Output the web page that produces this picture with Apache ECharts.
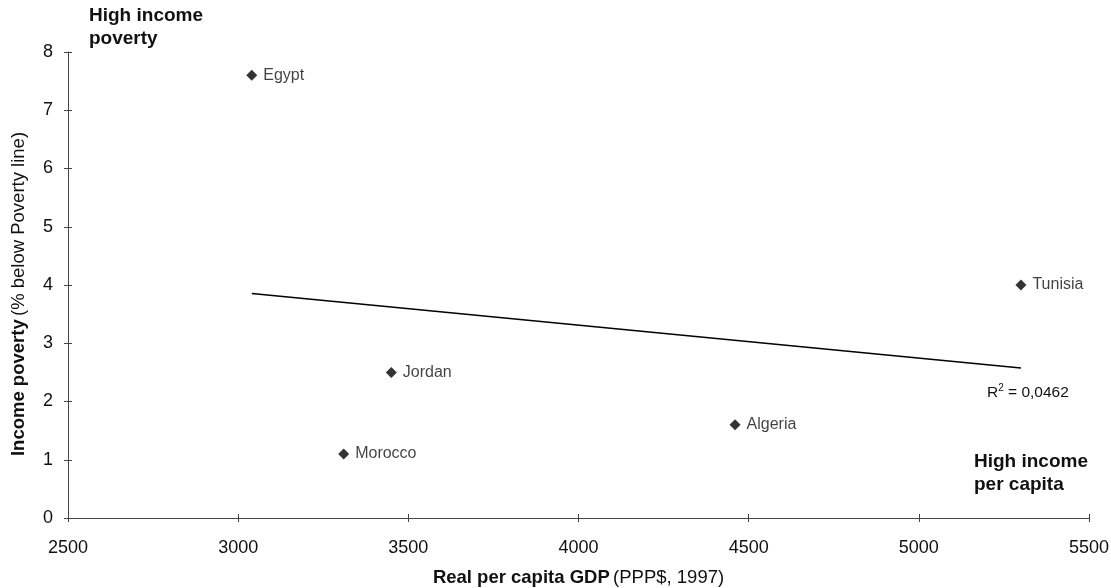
<!DOCTYPE html>
<html>
<head>
<meta charset="utf-8">
<script src="https://cdn.jsdelivr.net/npm/echarts@6/dist/echarts.min.js"></script>
<style>
  html, body { margin: 0; padding: 0; background: #fff; }
  #chart { width: 1111px; height: 588px; }
</style>
</head>
<body>
<div id="chart"></div>
<script>
// Countries, real GDP per capita (PPP$, 1997) and income poverty (% below poverty line)
const countries = ['Egypt', 'Jordan', 'Morocco', 'Algeria', 'Tunisia'];
const gdpPerCapita = [3040, 3450, 3310, 4460, 5300];
const incomePoverty = [7.6, 2.5, 1.1, 1.6, 4.0];
const rSquaredText = '0,0462';

// Least-squares trend line over the observed GDP range
function linearFit(xs, ys) {
  const n = xs.length;
  const mx = xs.reduce((a, b) => a + b, 0) / n;
  const my = ys.reduce((a, b) => a + b, 0) / n;
  let sxy = 0, sxx = 0;
  for (let i = 0; i < n; i++) {
    sxy += (xs[i] - mx) * (ys[i] - my);
    sxx += (xs[i] - mx) * (xs[i] - mx);
  }
  const slope = sxy / sxx;
  return x => my + slope * (x - mx);
}
const fit = linearFit(gdpPerCapita, incomePoverty);
const xLo = Math.min(...gdpPerCapita), xHi = Math.max(...gdpPerCapita);
const trendData = [[xLo, fit(xLo)], [xHi, fit(xHi)]];

const FONT = '"Liberation Sans", Arial, sans-serif';
const axisColor = '#444';
const textColor = '#111';
const titleSize = 18.5;

const chart = echarts.init(document.getElementById('chart'), null, { renderer: 'canvas' });

const xBase = { type: 'value', min: 2500, max: 5500, interval: 500, splitLine: { show: false } };
const yBase = { type: 'value', min: 0, max: 8, interval: 1, splitLine: { show: false } };

chart.setOption({
  backgroundColor: '#ffffff',
  animation: false,
  grid: { left: 68, right: 22, top: 52, bottom: 70, containLabel: false, outerBoundsMode: 'none' },
  xAxis: [
    Object.assign({}, xBase, {
      position: 'bottom',
      name: '{b|Real per capita GDP} {n|(PPP$, 1997)}',
      nameLocation: 'middle',
      nameGap: 50,
      nameTextStyle: {
        rich: {
          b: { fontFamily: FONT, fontSize: titleSize, fontWeight: 'bold', color: textColor },
          n: { fontFamily: FONT, fontSize: titleSize, color: textColor }
        }
      },
      axisLine: { show: true, lineStyle: { color: axisColor, width: 1 } },
      axisTick: { show: true, inside: false, length: 4, lineStyle: { color: axisColor } },
      axisLabel: { fontFamily: FONT, fontSize: 18, color: textColor, margin: 21, formatter: v => String(v) }
    }),
    Object.assign({}, xBase, {
      position: 'bottom',
      axisLine: { show: false },
      axisTick: { show: true, inside: true, length: 4, lineStyle: { color: axisColor } },
      axisLabel: { show: false }
    })
  ],
  yAxis: [
    Object.assign({}, yBase, {
      position: 'left',
      name: '{b|Income poverty} {n|(% below Poverty line)}',
      nameLocation: 'middle',
      nameRotate: 90,
      nameGap: 40,
      nameTextStyle: {
        padding: [0, 18, 0, 0],
        rich: {
          b: { fontFamily: FONT, fontSize: titleSize, fontWeight: 'bold', color: textColor },
          n: { fontFamily: FONT, fontSize: titleSize, color: textColor }
        }
      },
      axisLine: { show: true, lineStyle: { color: axisColor, width: 1 } },
      axisTick: { show: true, inside: false, length: 4, lineStyle: { color: axisColor } },
      axisLabel: { fontFamily: FONT, fontSize: 18, color: textColor, margin: 15 }
    }),
    Object.assign({}, yBase, {
      position: 'left',
      axisLine: { show: false },
      axisTick: { show: true, inside: true, length: 4, lineStyle: { color: axisColor } },
      axisLabel: { show: false }
    })
  ],
  series: [
    {
      type: 'line',
      name: 'trend',
      data: trendData,
      showSymbol: false,
      symbol: 'none',
      lineStyle: { color: '#000', width: 1.6 },
      silent: true,
      z: 2
    },
    {
      type: 'scatter',
      name: 'countries',
      data: gdpPerCapita.map((x, i) => ({ value: [x, incomePoverty[i]], name: countries[i] })),
      symbol: 'diamond',
      symbolSize: 11,
      itemStyle: { color: '#000' },
      label: {
        show: true,
        position: 'right',
        distance: 6,
        formatter: p => p.name,
        fontFamily: FONT,
        fontSize: 16,
        color: textColor
      },
      z: 3
    }
  ],
  graphic: [
    {
      type: 'text',
      left: 89, top: 4,
      style: {
        text: 'High income\npoverty',
        fontFamily: FONT, fontSize: 19, fontWeight: 'bold', fill: textColor,
        lineHeight: 23
      }
    },
    {
      type: 'text',
      right: 23, top: 450,
      style: {
        text: 'High income\nper capita',
        fontFamily: FONT, fontSize: 19, fontWeight: 'bold', fill: textColor,
        align: 'right', lineHeight: 23
      }
    },
    {
      type: 'text',
      left: 987, top: 383,
      style: {
        text: '{r|R}{s|2}{r| = ' + rSquaredText + '}',
        rich: {
          r: { fontFamily: FONT, fontSize: 15.5, fill: textColor, verticalAlign: 'bottom' },
          s: { fontFamily: FONT, fontSize: 10, fill: textColor, verticalAlign: 'top', padding: [0, 0, 8, 0] }
        }
      }
    }
  ]
});
</script>
</body>
</html>
